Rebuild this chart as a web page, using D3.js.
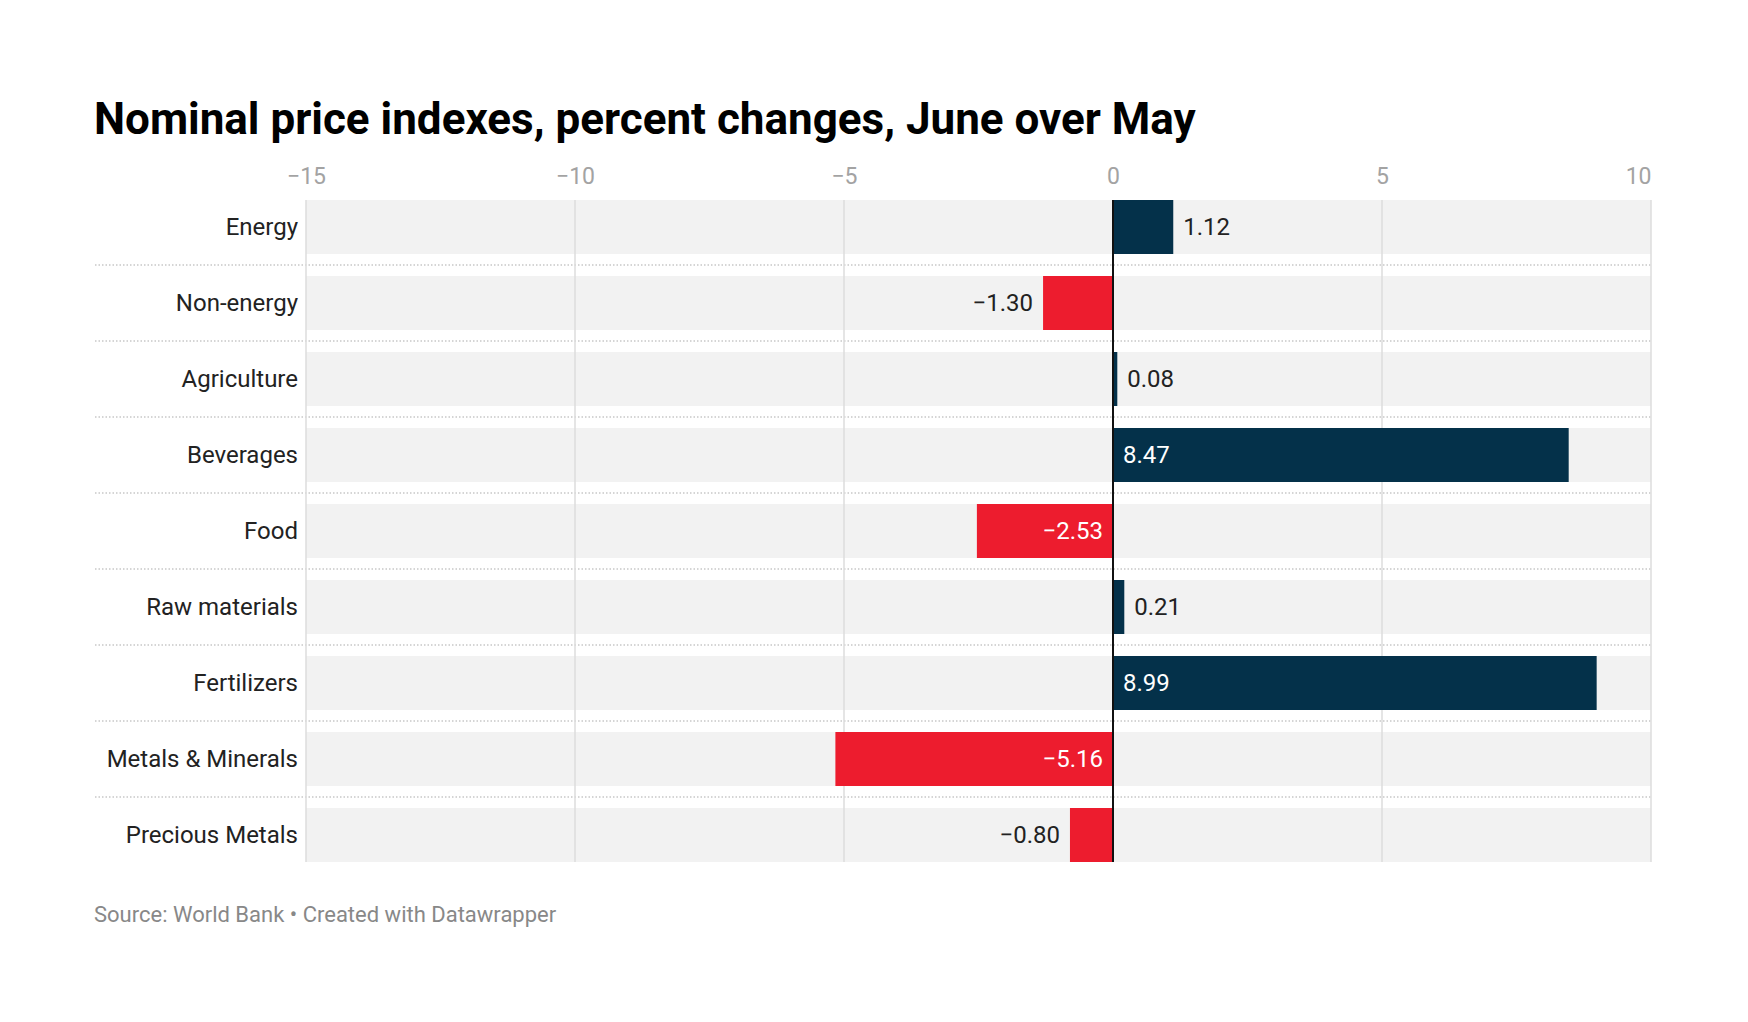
<!DOCTYPE html>
<html>
<head>
<meta charset="utf-8">
<script src="https://cdn.jsdelivr.net/npm/d3@7"></script>
<style>
  body { margin: 0; background: #fff; }
  text { font-family: Roboto, "Noto Sans", sans-serif; }
</style>
</head>
<body>
<svg width="1748" height="1022"></svg>
<script>
// data
const categories = ["Energy", "Non-energy", "Agriculture", "Beverages", "Food",
  "Raw materials", "Fertilizers", "Metals & Minerals", "Precious Metals"];
const values = [1.12, -1.30, 0.08, 8.47, -2.53, 0.21, 8.99, -5.16, -0.80];
const tickValues = [-15, -10, -5, 0, 5, 10];

const svg = d3.select("svg");

const plot = {left: 306, right: 1651, top: 200, bottom: 862, gap: 22};

const x = d3.scaleLinear()
  .domain([-15, 10])
  .range([plot.left, plot.right]);

const y = d3.scaleBand()
  .domain(categories)
  .range([plot.top, plot.bottom])
  .paddingInner(22 / 76)
  .paddingOuter(0);

// title
svg.append("text")
  .attr("x", 94)
  .attr("y", 134)
  .attr("font-size", 44)
  .attr("font-weight", 700)
  .attr("fill", "#000")
  .text("Nominal price indexes, percent changes, June over May");

// background bands
svg.append("g")
  .selectAll("rect")
  .data(categories)
  .join("rect")
    .attr("x", plot.left)
    .attr("y", d => y(d))
    .attr("width", plot.right - plot.left)
    .attr("height", y.bandwidth())
    .attr("fill", "#f2f2f2");

// dotted separators
svg.append("g")
  .selectAll("line")
  .data(categories.slice(1))
  .join("line")
    .attr("x1", 95)
    .attr("x2", plot.right)
    .attr("y1", d => y(d) - y.step() * y.paddingInner() / 2)
    .attr("y2", d => y(d) - y.step() * y.paddingInner() / 2)
    .attr("stroke", "#c8c8c8")
    .attr("stroke-width", 1.5)
    .attr("stroke-dasharray", "1.5,2");

// grid lines
svg.append("g")
  .selectAll("line")
  .data(tickValues.filter(d => d !== 0))
  .join("line")
    .attr("x1", d => x(d))
    .attr("x2", d => x(d))
    .attr("y1", plot.top)
    .attr("y2", plot.bottom)
    .attr("stroke", "#dcdcdc")
    .attr("stroke-width", 1.5);

// x axis on top
const xAxis = svg.append("g")
  .attr("transform", `translate(0, ${plot.top})`)
  .call(d3.axisTop(x).tickValues(tickValues).tickSize(0).tickPadding(0).tickFormat(d3.format("d")));
xAxis.select(".domain").remove();
xAxis.selectAll("text")
  .attr("y", -16)
  .attr("dy", 0)
  .attr("font-size", 23)
  .attr("font-family", "Roboto, sans-serif")
  .attr("fill", "#a3a3a3")
  .attr("text-anchor", d => d === 10 ? "end" : "middle");

// bars
svg.append("g")
  .selectAll("rect")
  .data(values)
  .join("rect")
    .attr("x", d => x(Math.min(0, d)))
    .attr("y", (d, i) => y(categories[i]))
    .attr("width", d => Math.abs(x(d) - x(0)))
    .attr("height", y.bandwidth())
    .attr("fill", d => d < 0 ? "#ed1c2e" : "#04314a");

// zero line
svg.append("line")
  .attr("x1", x(0)).attr("x2", x(0))
  .attr("y1", plot.top).attr("y2", plot.bottom)
  .attr("stroke", "#111")
  .attr("stroke-width", 2);

// category labels
svg.append("g")
  .selectAll("text")
  .data(categories)
  .join("text")
    .attr("x", plot.left - 8)
    .attr("y", d => y(d) + y.bandwidth() / 2)
    .attr("dy", "0.35em")
    .attr("text-anchor", "end")
    .attr("font-size", 24)
    .attr("fill", "#222")
    .text(d => d);

// value labels
const fmt = d3.format(".2f");
svg.append("g")
  .selectAll("text")
  .data(values)
  .join("text")
    .each(function (d, i) {
      const inside = Math.abs(x(d) - x(0)) > 100;
      const t = d3.select(this);
      const cy = y(categories[i]) + y.bandwidth() / 2;
      t.attr("y", cy).attr("dy", "0.35em").attr("font-size", 24);
      if (inside) {
        t.attr("fill", "#fff")
         .attr("x", d < 0 ? x(0) - 10 : x(0) + 10)
         .attr("text-anchor", d < 0 ? "end" : "start");
      } else {
        t.attr("fill", "#222")
         .attr("x", d < 0 ? x(d) - 10 : x(d) + 10)
         .attr("text-anchor", d < 0 ? "end" : "start");
      }
    })
    .text(d => fmt(d));

// footer
svg.append("text")
  .attr("x", 94)
  .attr("y", 922)
  .attr("font-size", 22)
  .attr("fill", "#888")
  .text("Source: World Bank • Created with Datawrapper");
</script>
</body>
</html>
